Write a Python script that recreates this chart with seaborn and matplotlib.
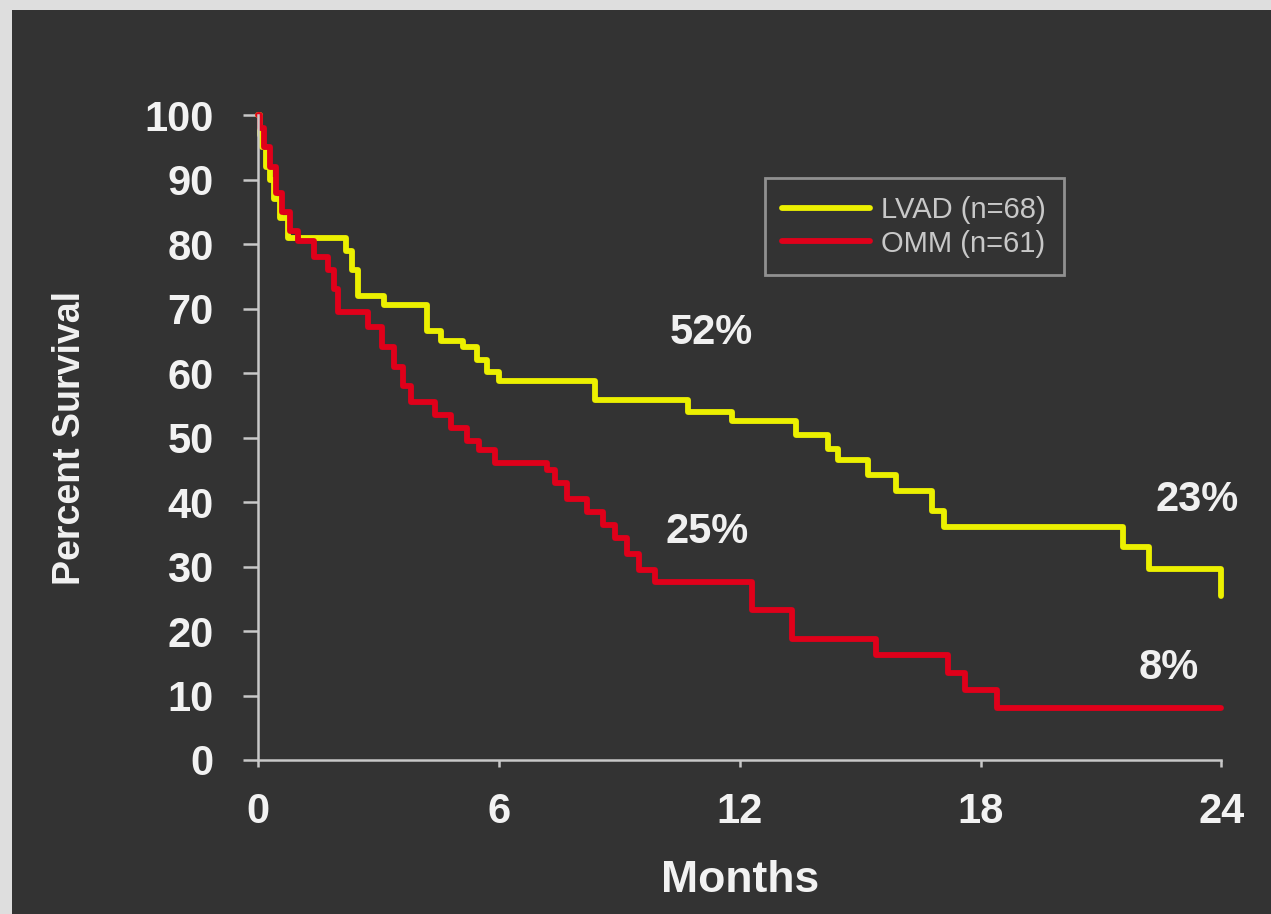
import pandas as pd
import matplotlib
matplotlib.use("Agg")
import matplotlib.pyplot as plt
from matplotlib.patches import Rectangle
import seaborn as sns

# Kaplan-Meier step values (months, percent survival)
lvad_months = [0, 0.05, 0.1, 0.2, 0.3, 0.4, 0.55, 0.75, 2.2, 2.35, 2.5, 3.15,
               4.2, 4.55, 5.1, 5.45, 5.7, 6.0, 8.4, 10.7, 11.8, 13.4, 14.2,
               14.45, 15.2, 15.9, 16.8, 17.1, 21.55, 22.2, 24.0]
lvad_surv = [100, 97, 95, 92, 90, 87, 84, 81, 79, 76, 72, 70.5,
             66.5, 65, 64, 62, 60.2, 58.7, 55.8, 54, 52.6, 50.4, 48.2,
             46.5, 44.2, 41.7, 38.6, 36.1, 33, 29.6, 25.5]

omm_months = [0, 0.05, 0.15, 0.3, 0.45, 0.6, 0.8, 1.0, 1.4, 1.75, 1.9, 2.0,
              2.75, 3.1, 3.4, 3.6, 3.8, 4.4, 4.8, 5.2, 5.5, 5.9, 7.2, 7.4,
              7.7, 8.2, 8.6, 8.9, 9.2, 9.5, 9.9, 12.3, 13.3, 15.4, 17.2,
              17.6, 18.4, 24.0]
omm_surv = [100, 98, 95, 92, 88, 85, 82, 80.5, 78, 76, 73, 69.5,
            67.2, 64, 61, 58, 55.5, 53.5, 51.5, 49.5, 48, 46, 45, 43,
            40.5, 38.5, 36.5, 34.5, 32, 29.5, 27.6, 23.3, 18.7, 16.3, 13.5,
            10.9, 8.1, 8.1]

groups = ["LVAD (n=68)", "OMM (n=61)"]
colors = ["#ecf000", "#e0001a"]

# labels on the plot: text, month, percent
notes = ["52%", "25%", "23%", "8%"]
note_x = [11.3, 11.2, 23.4, 22.7]
note_y = [66.2, 35.3, 40.3, 14.3]

df = pd.concat([
    pd.DataFrame({"Months": lvad_months, "Survival": lvad_surv, "Group": groups[0]}),
    pd.DataFrame({"Months": omm_months, "Survival": omm_surv, "Group": groups[1]}),
])

bg = "#333333"
fg = "#c8c8c8"
sns.set_theme(style="ticks")
plt.rcParams["font.family"] = ["Liberation Sans", "DejaVu Sans"]

fig = plt.figure(figsize=(12.71, 9.14), dpi=100, facecolor="#dedede")
fig.add_artist(Rectangle((12 / 1271, 0), 1, 1 - 10 / 914, transform=fig.transFigure,
                         facecolor=bg, edgecolor="none", zorder=0))
ax = fig.add_axes([0.203, 0.1685, 0.758, 0.7055])
ax.set_facecolor(bg)

sns.lineplot(data=df, x="Months", y="Survival", hue="Group", hue_order=groups,
             palette=colors, drawstyle="steps-post", linewidth=4.2, sort=False,
             estimator=None, legend=False, clip_on=False, ax=ax)

ax.set_xlim(0, 24)
ax.set_ylim(0, 100)
ax.set_xticks([0, 6, 12, 18, 24])
ax.set_yticks(range(0, 101, 10))
sns.despine(ax=ax)
for side in ["left", "bottom"]:
    ax.spines[side].set_color(fg)
    ax.spines[side].set_linewidth(1.8)
ax.tick_params(axis="x", colors=fg, length=5, width=1.8, pad=18)
ax.tick_params(axis="y", colors=fg, length=11, width=1.8, pad=21)
for lab in ax.get_xticklabels() + ax.get_yticklabels():
    lab.set_color("#f2f2f2")
    lab.set_fontweight("bold")
    lab.set_fontsize(30)

ax.set_xlabel("Months", fontsize=32, fontweight="bold", color="#f2f2f2")
ax.set_ylabel("Percent Survival", fontsize=27, fontweight="bold", color="#f2f2f2")
ax.xaxis.set_label_coords(0.5, -0.155)
ax.yaxis.set_label_coords(-0.176, 0.5)

for t, x, y in zip(notes, note_x, note_y):
    ax.text(x, y, t, ha="center", va="center", fontsize=30, fontweight="bold",
            color="#f0f0f0")

leg = ax.legend(handles=ax.lines[:2], labels=groups, loc="upper left",
                bbox_to_anchor=(0.526, 0.902), borderaxespad=0, fancybox=False,
                frameon=True, fontsize=21, handlelength=3.0, labelspacing=0.2,
                borderpad=0.6, handletextpad=0.4, facecolor=bg, edgecolor="#a8a8a8")
leg.get_frame().set_linewidth(2)
for txt in leg.get_texts():
    txt.set_color(fg)

plt.savefig("out.png", dpi=100, facecolor=fig.get_facecolor())
plt.close()
